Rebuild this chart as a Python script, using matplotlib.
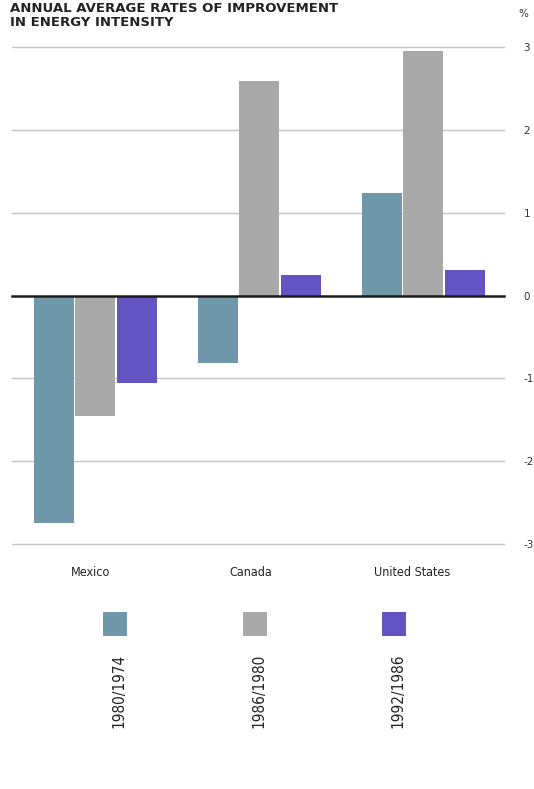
import matplotlib
matplotlib.use("Agg")
import matplotlib.pyplot as plt
from matplotlib.patches import Rectangle
import numpy as np

countries = ["Mexico", "Canada", "United States"]
periods = ["1980/1974", "1986/1980", "1992/1986"]
values = {
    "1980/1974": [-2.75, -0.82, 1.24],
    "1986/1980": [-1.45, 2.59, 2.95],
    "1992/1986": [-1.06, 0.25, 0.31],
}
colors = ["#6f98aa", "#a9a9a9", "#6453c2"]
yticks = [3, 2, 1, 0, -1, -2, -3]

W, H = 534, 789
fig = plt.figure(figsize=(W / 100, H / 100), dpi=100)
fig.patch.set_facecolor("white")

def fx(px):
    return px / W

def fy(py):
    return 1 - py / H

ax = fig.add_axes([fx(12), fy(544), fx(504) - fx(12), fy(47) - fy(544)])
ax.set_facecolor("none")
ax.set_ylim(-3, 3)
ax.set_xlim(-0.506, 2.494)

x = np.arange(len(countries))
bw = 40 / 164
offs = [-41 / 164, 0, 42 / 164]
for i, p in enumerate(periods):
    ax.bar(x + offs[i], values[p], width=bw, color=colors[i], zorder=3, linewidth=0)

for t in yticks:
    if t == 0:
        continue
    ax.axhline(t, color="#c4c4c4", lw=1.0, zorder=1, clip_on=False)
ax.plot([-0.506, 2.494], [0, 0], color="#1a1a1a", lw=1.8, zorder=4, clip_on=False)

for s in ax.spines.values():
    s.set_visible(False)
ax.set_xticks([])
ax.yaxis.tick_right()
ax.set_yticks(yticks)
ax.set_yticklabels([str(t) for t in yticks], fontsize=7.5, color="#333333")
ax.tick_params(axis="y", length=0, pad=14)

cond = dict(family="DejaVu Sans", fontstretch="condensed")

fig.text(fx(518), fy(14), "%", fontsize=7.5, color="#333333", ha="left", va="center")
fig.text(fx(10), fy(12), "ANNUAL AVERAGE RATES OF IMPROVEMENT", fontsize=9.5,
         fontweight="bold", color="#222222", ha="left", va="baseline")
fig.text(fx(10), fy(26), "IN ENERGY INTENSITY", fontsize=9.5,
         fontweight="bold", color="#222222", ha="left", va="baseline")

label_x = [91, 251, 412]
for cx, c in zip(label_x, countries):
    fig.text(fx(cx), fy(573), c, fontsize=9, color="#222222",
             ha="center", va="center", **cond)

sq_x = [103, 243, 382]
for sx, col, p in zip(sq_x, colors, periods):
    fig.patches.append(Rectangle((fx(sx), fy(636)), fx(24), fy(612) - fy(636),
                                 transform=fig.transFigure, facecolor=col,
                                 edgecolor="none"))
    fig.text(fx(sx + 16), fy(691), p, fontsize=11, color="#222222",
             rotation=90, ha="center", va="center", **cond)

fig.savefig("out.png", dpi=100)
